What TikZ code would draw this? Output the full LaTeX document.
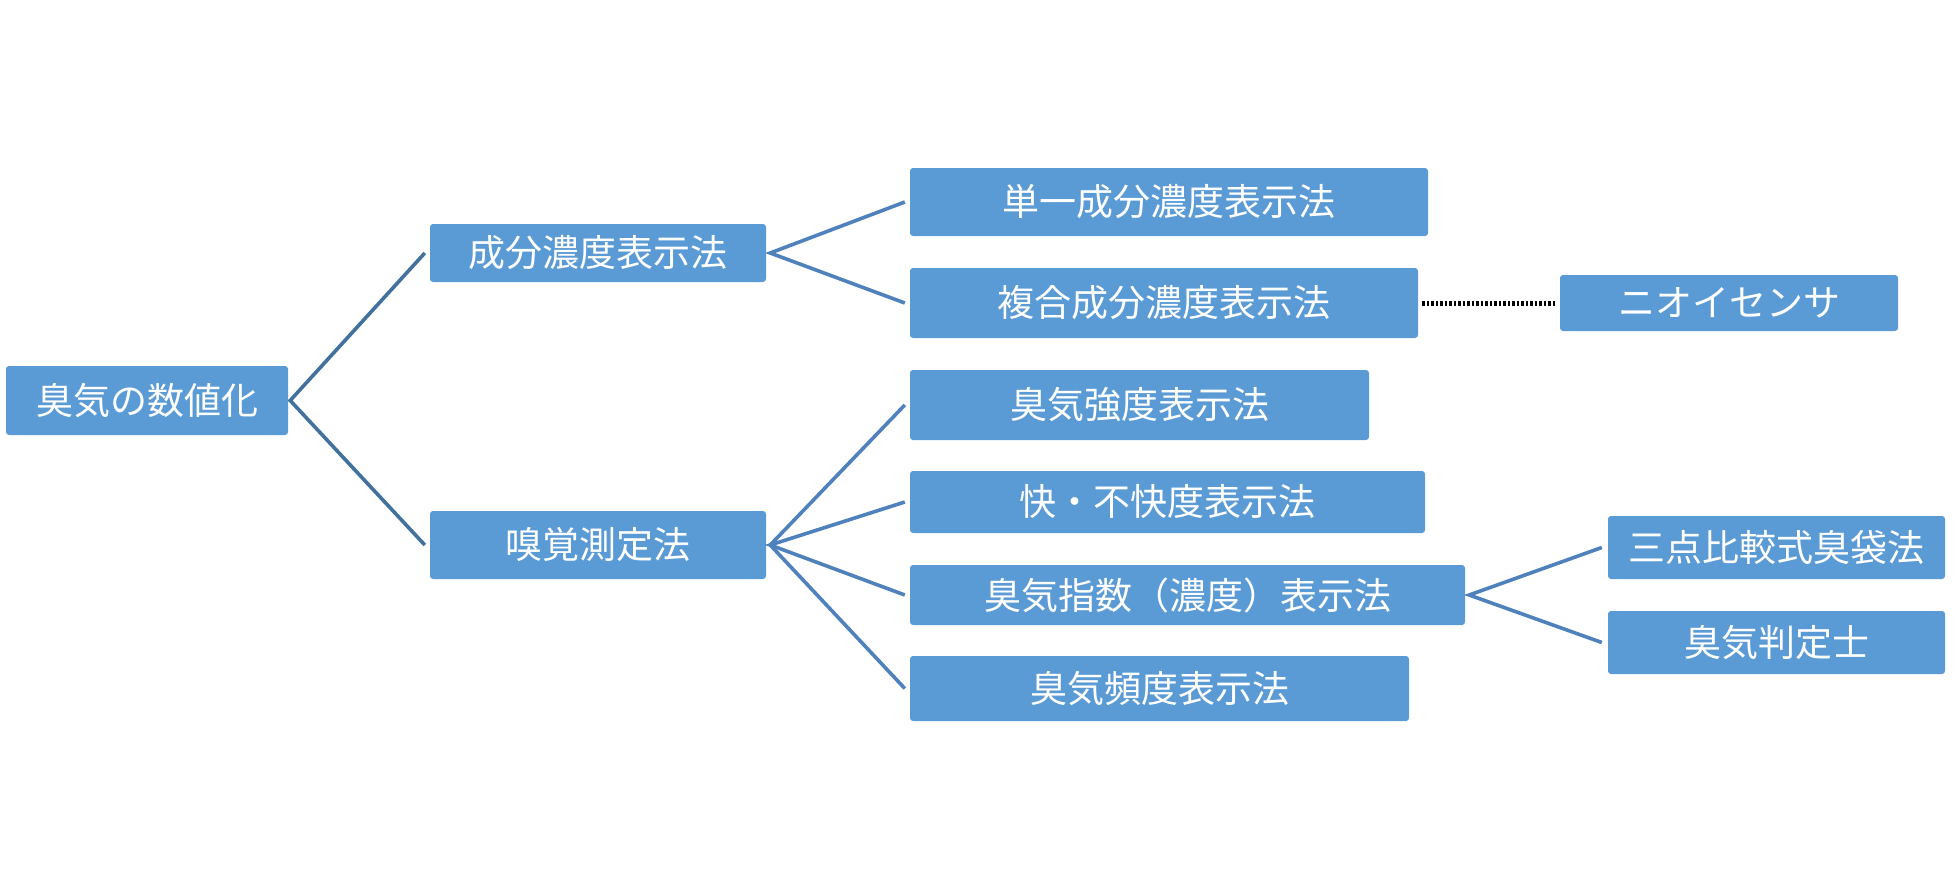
\documentclass[tikz,border=0pt]{standalone}
\usepackage{fontspec}
\newfontfamily\jp{Noto Sans CJK JP}
\definecolor{boxfill}{HTML}{5B9BD5}
\definecolor{lineA}{HTML}{41719C}
\definecolor{lineB}{HTML}{4F81BD}
\begin{document}
\begin{tikzpicture}[x=1pt,y=-1pt,
  box/.style={rectangle, rounded corners=3pt, fill=boxfill, draw=none, text=white,
    font=\jp\fontsize{37}{42}\selectfont, inner sep=0pt},
  linkA/.style={draw=lineA, line width=3.6pt},
  linkB/.style={draw=lineB, line width=3.6pt},
  dots/.style={draw=black, line width=5pt, dash pattern=on 2.5pt off 2pt}]
\useasboundingbox (0,0) rectangle (1960,889);
\node[box, minimum width=282pt, minimum height=69pt] (root) at (147,400.5) {臭気の数値化};
\node[box, minimum width=336pt, minimum height=58pt] (seibun) at (598,253) {成分濃度表示法};
\node[box, minimum width=336pt, minimum height=68pt] (kyukaku) at (598,545) {嗅覚測定法};
\node[box, minimum width=518pt, minimum height=68pt] (tanitsu) at (1169,202) {単一成分濃度表示法};
\node[box, minimum width=508pt, minimum height=70pt] (fukugo) at (1164,303) {複合成分濃度表示法};
\node[box, minimum width=338pt, minimum height=56pt] (sensor) at (1729,303) {ニオイセンサ};
\node[box, minimum width=459pt, minimum height=70pt] (kyodo) at (1139.5,405) {臭気強度表示法};
\node[box, minimum width=515pt, minimum height=62pt] (kai) at (1167.5,502) {快・不快度表示法};
\node[box, minimum width=555pt, minimum height=60pt] (shisu) at (1187.5,595) {臭気指数（濃度）表示法};
\node[box, minimum width=499pt, minimum height=65pt] (hindo) at (1159.5,688.5) {臭気頻度表示法};
\node[box, minimum width=337pt, minimum height=63pt] (santen) at (1776.5,547.5) {三点比較式臭袋法};
\node[box, minimum width=337pt, minimum height=63pt] (hantei) at (1776.5,642.5) {臭気判定士};

\coordinate (r0) at ([xshift=2pt]root.east);
\draw[linkA] ([xshift=-5pt]seibun.west) -- (r0) -- ([xshift=-5pt]kyukaku.west);
\coordinate (s0) at ([xshift=4pt]seibun.east);
\draw[linkB] ([xshift=-5pt]tanitsu.west) -- (s0) -- ([xshift=-5pt]fukugo.west);
\coordinate (k0) at ([xshift=4pt]kyukaku.east);
\draw[linkB] ([xshift=-5pt]kyodo.west) -- (k0) -- ([xshift=-5pt]hindo.west);
\draw[linkB] ([xshift=-5pt]kai.west) -- (k0) -- ([xshift=-5pt]shisu.west);
\coordinate (h0) at ([xshift=4pt]shisu.east);
\draw[linkB] ([xshift=-6pt]santen.west) -- (h0) -- ([xshift=-6pt]hantei.west);
\draw[dots] ([xshift=4pt]fukugo.east) -- ([xshift=-4pt]sensor.west);
\end{tikzpicture}
\end{document}
